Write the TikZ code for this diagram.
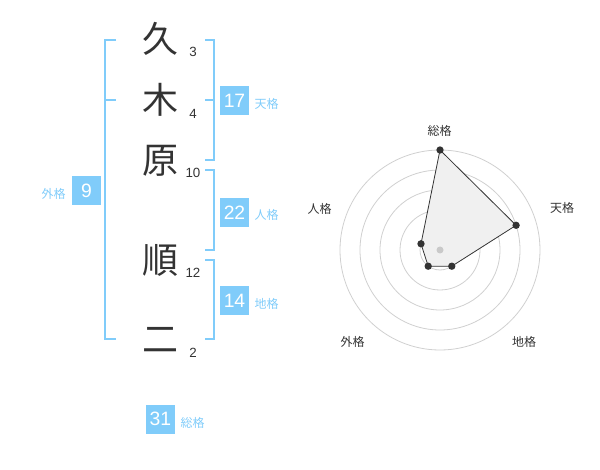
\documentclass[tikz,border=0pt]{standalone}
\usepackage{fontspec}
\setmainfont{Liberation Sans}
\newfontfamily\jp{Noto Sans CJK JP}
\definecolor{kakublue}{RGB}{128,204,250}
\definecolor{inkgray}{RGB}{51,51,51}
\definecolor{ringgray}{RGB}{208,208,208}

\tikzset{every picture/.style={line width=0.75pt}}
\tikzset{
  kanji/.style={inner sep=0pt, text=inkgray, font=\jp\fontsize{27}{27}\selectfont},
  strokes/.style={inner sep=0pt, text=inkgray, font=\fontsize{10}{10}\selectfont},
  kakubox/.style={fill=kakublue, text=white, minimum width=21.75pt, minimum height=21.75pt, inner sep=0pt, font=\fontsize{14.5}{14.5}\selectfont},
  kakuname/.style={inner sep=0pt, text=kakublue, font=\jp\fontsize{9}{9}\selectfont},
  bracket/.style={draw=kakublue, line width=1.5pt},
  radarname/.style={inner sep=0pt, text=inkgray, font=\jp\fontsize{9}{9}\selectfont},
  ring/.style={draw=ringgray, line width=0.6pt},
  vertex/.style={circle, fill=inkgray, inner sep=0pt, minimum size=5.5pt}
}

\begin{document}
\begin{tikzpicture}[x=0.75pt,y=0.75pt,yscale=-1,xscale=1]
\useasboundingbox (0,0) rectangle (600,470);

% Name characters
\node [kanji] (ku) at (160,38.5) {久};
\node [kanji] (ki) at (160,100) {木};
\node [kanji] (hara) at (160,161) {原};
\node [kanji] (jun) at (160,260) {順};
\node [kanji] (ji) at (160,340) {二};

% Stroke counts
\node [strokes] (nku) at (193,52) {3};
\node [strokes] (nki) at (193,114) {4};
\node [strokes] (nhara) at (193,172.5) {10};
\node [strokes] (njun) at (193,272.5) {12};
\node [strokes] (nji) at (193,353) {2};

%Straight Lines : left bracket
\draw [bracket] (116,40) -- (105,40) -- (105,339) -- (116,339) ;
\draw [bracket] (105,100) -- (116,100) ;
%Straight Lines : right brackets
\draw [bracket] (205,40) -- (214,40) -- (214,160) -- (205,160) ;
\draw [bracket] (205,100) -- (214,100) ;
\draw [bracket] (205,170) -- (214,170) -- (214,250) -- (205,250) ;
\draw [bracket] (205,260) -- (214,260) -- (214,339) -- (205,339) ;

% Text Node : boxes
\node [kakubox] (ten) at (234.5,100.5) {17};
\node [kakuname, anchor=west] (tenl) at (254,104) {天格};
\node [kakubox] (jin) at (234.5,212.5) {22};
\node [kakuname, anchor=west] (jinl) at (254,215) {人格};
\node [kakubox] (chi) at (234.5,300.5) {14};
\node [kakuname, anchor=west] (chil) at (254,304) {地格};
\node [kakubox] (gai) at (86.5,190.5) {9};
\node [kakuname, anchor=east] (gail) at (66,194) {外格};
\node [kakubox] (sou) at (160.5,419) {31};
\node [kakuname, anchor=west] (soul) at (180,422.5) {総格};

%Shape: Circle : radar rings
\foreach \r in {20,40,60,80,100}
  \draw [ring] (440,250) circle [radius=\r] ;

% radar vertices
\coordinate (psou) at (440,150);
\coordinate (pten) at (516.1,225.3);
\coordinate (pchi) at (451.8,266.2);
\coordinate (pgai) at (428.2,266.2);
\coordinate (pjin) at (421,243.8);
\draw [draw=inkgray, fill=gray!12, line width=0.6pt] (psou) -- (pten) -- (pchi) -- (pgai) -- (pjin) -- cycle ;
\fill [ringgray!90!black!80] (440,250) circle [radius=3.5] ;
\foreach \p in {psou,pten,pchi,pgai,pjin}
  \node [vertex] at (\p) {};

% Text Node : radar labels
\node [radarname] (rsou) at (439.5,130.5) {総格};
\node [radarname] (rten) at (562,208) {天格};
\node [radarname] (rjin) at (319.5,209) {人格};
\node [radarname] (rgai) at (352.5,342) {外格};
\node [radarname] (rchi) at (524,342) {地格};

\end{tikzpicture}
\end{document}
